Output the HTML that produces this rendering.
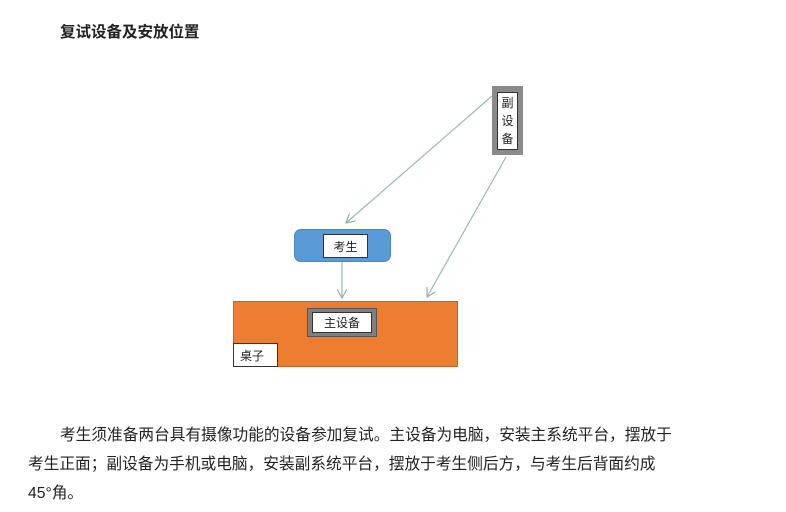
<!DOCTYPE html>
<html><head><meta charset="utf-8"><style>
body{margin:0;width:786px;height:512px;background:#fff;position:relative;overflow:hidden;font-family:"Liberation Sans","Noto Sans CJK SC",sans-serif;color:#222}
.a{position:absolute;box-sizing:border-box}
.t{font-size:12px;display:flex;align-items:center;justify-content:center;background:#fff}
p{position:absolute;margin:0;left:28px;width:740px;font-size:15.7px;line-height:29px;text-indent:32px;white-space:nowrap}
</style></head><body>
<div class="a" style="left:60px;top:20px;font-size:15.5px;font-weight:bold">复试设备及安放位置</div>
<div class="a" style="left:492px;top:86px;width:31px;height:69px;background:#8a8a8a"></div>
<div class="a t" style="left:497px;top:92px;width:21px;height:58px;border:1px solid #333;flex-direction:column;line-height:18px">副<br>设<br>备</div>
<div class="a" style="left:294px;top:229px;width:97px;height:33px;background:#5b9bd5;border-radius:7px;border:1px solid #4a86c0"></div>
<div class="a t" style="left:323px;top:234px;width:45px;height:24px;border:1px solid #333">考生</div>
<div class="a" style="left:233px;top:301px;width:225px;height:66px;background:#ed7d31;border:1px solid #c96420"></div>
<div class="a" style="left:307px;top:308px;width:70px;height:29px;background:#7f7f7f;border:1px solid #555"></div>
<div class="a t" style="left:312px;top:312px;width:60px;height:21px;border:1px solid #333">主设备</div>
<div class="a t" style="left:233px;top:343px;width:45px;height:24px;border:1px solid #333;justify-content:flex-start;padding-left:6px">桌子</div>
<svg class="a" style="left:0;top:0" width="786" height="512">
<defs><marker id="m" markerWidth="10" markerHeight="10" refX="9" refY="5" orient="auto" markerUnits="userSpaceOnUse"><path d="M0,0 L9,5 L0,10" fill="none" stroke="#8fb3b0" stroke-width="1.2"/></marker></defs>
<g stroke="#9ab8b5" stroke-width="1.2" fill="none" marker-end="url(#m)">
<line x1="492" y1="96" x2="346" y2="223"/>
<line x1="506" y1="157" x2="427" y2="297"/>
<line x1="342" y1="262" x2="342" y2="298"/>
</g></svg>
<p style="top:421px">考生须准备两台具有摄像功能的设备参加复试。主设备为电脑，安装主系统平台，摆放于</p>
<p style="top:450px;text-indent:0">考生正面；副设备为手机或电脑，安装副系统平台，摆放于考生侧后方，与考生后背面约成</p>
<p style="top:479px;text-indent:0">45°角。</p>
</body></html>
